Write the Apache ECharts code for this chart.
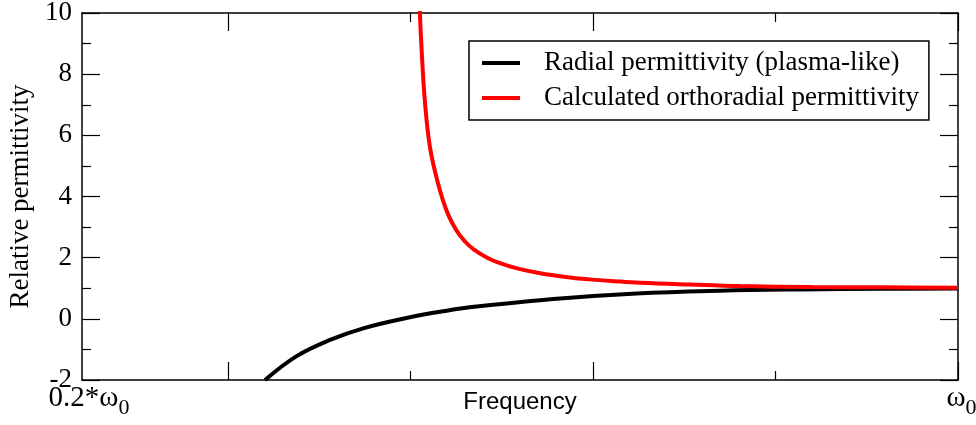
<!DOCTYPE html>
<html>
<head>
<meta charset="utf-8">
<script src="https://cdn.jsdelivr.net/npm/echarts@6/dist/echarts.min.js"></script>
<style>html,body{margin:0;padding:0;background:#fff}#c{width:976px;height:425px}</style>
</head>
<body>
<div id="c"></div>
<script>
// Frequency in arbitrary units: 0.2*ω0 = 1.2, ω0 = 6
const xMin = 1.2, xMax = 6;
const xMajorTicks = [2, 4, 6];
const xMinorTicks = [3, 5];
const xLabelValues = [1.2, 6];
const yMin = -2, yMax = 10, yStep = 2;

const radialX = [2.203, 2.376, 2.559, 2.741, 2.997, 3.198, 3.36, 3.783, 4.239, 4.696, 5.134, 5.6, 6.0];
const radialY = [-2.0, -1.22, -0.69, -0.31, 0.05, 0.265, 0.40, 0.65, 0.83, 0.92, 0.96, 0.98, 0.995];

const orthoX = [3.050, 3.061, 3.079, 3.107, 3.15, 3.20, 3.253, 3.30, 3.344, 3.42, 3.49, 3.589, 3.71, 3.85, 3.984, 4.12, 4.258, 4.532, 4.805, 5.2, 5.6, 6.0];
const orthoY = [10.2, 8.8, 7.1, 5.6, 4.45, 3.5, 2.88, 2.52, 2.28, 2.0, 1.82, 1.64, 1.49, 1.37, 1.29, 1.23, 1.18, 1.12, 1.07, 1.04, 1.03, 1.02];

const names = ['Radial permittivity (plasma-like)', 'Calculated orthoradial permittivity'];

const zip = (a, b) => a.map((v, i) => [v, b[i]]);
const serif = 'Liberation Serif';
const lineStyle = {color: '#000', width: 1.5};

function xAxisDef(pos, ticks, len, showLine, showLabel) {
  return {
    type: 'value', position: pos, min: xMin, max: xMax,
    axisLine: {show: showLine, onZero: false, lineStyle},
    axisTick: {show: true, inside: true, length: len, customValues: ticks, lineStyle: {color: '#000', width: 1.2}},
    axisLabel: showLabel ? {
      show: true, customValues: xLabelValues, margin: 3,
      formatter: v => (v < 2 ? '{a|0.2*ω}{s|0}' : '{b|ω}{s|0}'),
      rich: {
        a: {fontFamily: serif, fontSize: 29, color: '#000', lineHeight: 30, padding: [0, 0, 0, 14]},
        b: {fontFamily: serif, fontSize: 29, color: '#000', lineHeight: 30, padding: [0, 0, 0, 7]},
        s: {fontFamily: serif, fontSize: 22, color: '#000', lineHeight: 30, padding: [20, 0, 0, 0]}
      }
    } : {show: false},
    splitLine: {show: false},
    name: showLabel ? 'Frequency' : '',
    nameLocation: 'middle', nameGap: 10, nameMoveOverlap: false,
    nameTextStyle: {fontFamily: 'Liberation Sans', fontSize: 24, color: '#000', verticalAlign: 'top'}
  };
}

function yAxisDef(pos, showLabel) {
  return {
    type: 'value', position: pos, min: yMin, max: yMax, interval: yStep,
    axisLine: {show: true, onZero: false, lineStyle},
    axisTick: {show: true, inside: true, length: 18, lineStyle: {color: '#000', width: 1.2}},
    minorTick: {show: true, splitNumber: 2, length: 9, lineStyle: {color: '#000', width: 1.2}},
    axisLabel: {show: showLabel, fontFamily: serif, fontSize: 27, color: '#000', margin: 10},
    splitLine: {show: false},
    name: showLabel ? 'Relative permittivity' : '',
    nameLocation: 'middle', nameGap: 48, nameRotate: 90, nameMoveOverlap: false,
    nameTextStyle: {fontFamily: serif, fontSize: 27, color: '#000'}
  };
}

const chart = echarts.init(document.getElementById('c'), null, {renderer: 'canvas'});
chart.setOption({
  animation: false,
  backgroundColor: '#fff',
  grid: {left: 82, right: 18, top: 13, bottom: 45, containLabel: false, outerBoundsMode: 'none'},
  xAxis: [
    xAxisDef('bottom', xMajorTicks, 18, true, true),
    xAxisDef('bottom', xMinorTicks, 9, false, false),
    xAxisDef('top', xMajorTicks, 18, true, false),
    xAxisDef('top', xMinorTicks, 9, false, false)
  ],
  yAxis: [yAxisDef('left', true), yAxisDef('right', false)],
  legend: {
    orient: 'vertical', left: 469, top: 41,
    padding: [7, 10, 7, 13], itemGap: 5,
    borderColor: '#000', borderWidth: 1.5,
    icon: 'rect', itemWidth: 38, itemHeight: 4,
    textStyle: {fontFamily: serif, fontSize: 27, color: '#000', lineHeight: 30, padding: [0, 0, 0, 19]},
    data: names
  },
  series: [
    {name: names[0], type: 'line', xAxisIndex: 0, yAxisIndex: 0, data: zip(radialX, radialY),
     showSymbol: false, smooth: 0.4, lineStyle: {color: '#000', width: 4}, itemStyle: {color: '#000'}},
    {name: names[1], type: 'line', xAxisIndex: 0, yAxisIndex: 0, data: zip(orthoX, orthoY),
     showSymbol: false, smooth: 0.4, lineStyle: {color: '#ff0000', width: 4}, itemStyle: {color: '#ff0000'}}
  ]
});
</script>
</body>
</html>
